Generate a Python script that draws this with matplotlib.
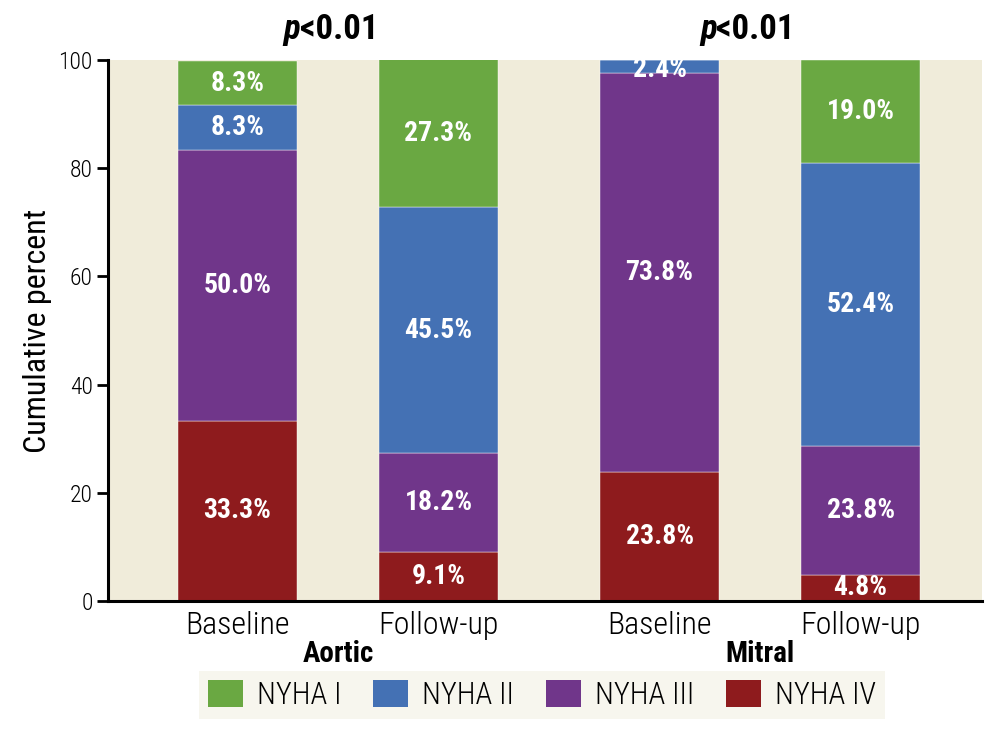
import matplotlib

matplotlib.use("Agg")
import matplotlib.pyplot as plt
import numpy as np
from matplotlib.patches import Patch

plt.rcParams["font.family"] = ["Roboto Condensed", "DejaVu Sans"]
plt.rcParams["font.weight"] = "light"

# data
groups = ["Aortic", "Mitral"]
timepoints = ["Baseline", "Follow-up", "Baseline", "Follow-up"]
classes = ["NYHA I", "NYHA II", "NYHA III", "NYHA IV"]
nyha_iv = [33.3, 9.1, 23.8, 4.8]
nyha_iii = [50.0, 18.2, 73.8, 23.8]
nyha_ii = [8.3, 45.5, 2.4, 52.4]
nyha_i = [8.3, 27.3, 0.0, 19.0]
p_labels = ["<0.01", "<0.01"]

colors = {
    "NYHA I": "#6aa842",
    "NYHA II": "#4471b4",
    "NYHA III": "#70368a",
    "NYHA IV": "#8e1b1d",
}
bg = "#f0ecda"

x = np.array([0.0, 1.0, 2.1, 3.1])
width = 0.592

fig = plt.figure(figsize=(10.04, 7.32), dpi=100)
ax = fig.add_axes([0.1076, 0.179, 0.8705, 0.739])
ax.set_facecolor(bg)

# stack from bottom: IV, III, II, I
stack = [("NYHA IV", nyha_iv), ("NYHA III", nyha_iii), ("NYHA II", nyha_ii), ("NYHA I", nyha_i)]
bottom = np.zeros(len(x))
for name, vals in stack:
    vals = np.asarray(vals)
    ax.bar(x, vals, width, bottom=bottom, color=colors[name],
           edgecolor="#ffffff", linewidth=0.3, zorder=2)
    for xi, b, v in zip(x, bottom, vals):
        if v <= 0:
            continue
        yc = min(b + v / 2, 98.3)
        ax.text(xi, yc, f"{v:.1f}%", ha="center", va="center", color="white",
                fontsize=20, fontweight="bold", zorder=3)
    bottom = bottom + vals

ax.set_xlim(-0.644, 3.704)
ax.set_ylim(0, 100)
ax.set_yticks([0, 20, 40, 60, 80, 100])
ax.set_xticks(x)
ax.set_xticklabels(timepoints, fontsize=23)
ax.tick_params(axis="y", labelsize=17, length=8, width=2, pad=3)
ax.tick_params(axis="x", length=0, pad=7)
ax.set_ylabel("Cumulative percent", fontsize=23, labelpad=5)

for side in ["top", "right"]:
    ax.spines[side].set_visible(False)
for side in ["left", "bottom"]:
    ax.spines[side].set_linewidth(2.2)
    ax.spines[side].set_zorder(4)

# group labels and p-values
centers = [(x[0] + x[1]) / 2, (x[2] + x[3]) / 2]
title_shift = [-0.27, -0.3]
for c, g, p, s in zip(centers, groups, p_labels, title_shift):
    ax.annotate(g, xy=(c, 0), xycoords=("data", "axes fraction"),
                xytext=(0, -38), textcoords="offset points",
                ha="center", va="center", fontsize=21, fontweight="bold")
    ax.annotate("p", xy=(c + s, 1.0), xycoords=("data", "axes fraction"),
                xytext=(0, 22), textcoords="offset points",
                ha="left", va="center", fontsize=25, fontweight="bold",
                fontstyle="italic")
    ax.annotate(p, xy=(c + s, 1.0), xycoords=("data", "axes fraction"),
                xytext=(12, 22), textcoords="offset points",
                ha="left", va="center", fontsize=25, fontweight="bold")

handles = [Patch(facecolor=colors[c], edgecolor="none") for c in classes]
leg = fig.legend(handles, classes, loc="center", ncol=4,
                 bbox_to_anchor=(542 / 1004, 1 - 695 / 732),
                 fontsize=22, frameon=True, facecolor="#f7f6ee", edgecolor="none",
                 fancybox=False, handlelength=1.15, handleheight=0.95,
                 columnspacing=1.05, handletextpad=0.45, borderpad=0.3)
leg.get_frame().set_alpha(1.0)

fig.savefig("out.png", dpi=100)
